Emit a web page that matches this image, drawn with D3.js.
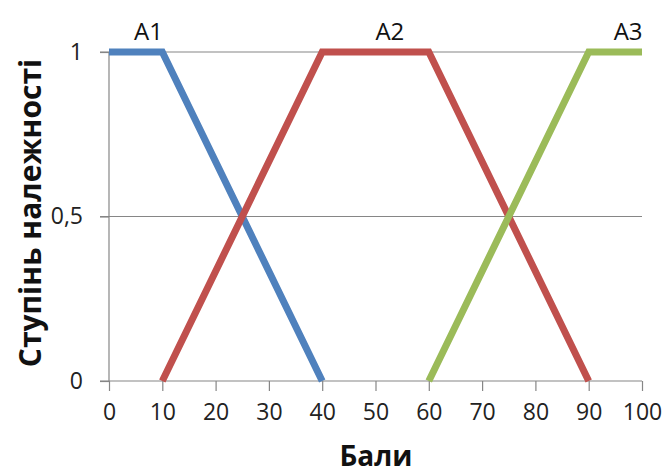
<!DOCTYPE html>
<html><head><meta charset="utf-8">
<script src="https://cdn.jsdelivr.net/npm/d3@7"></script>
<style>body{margin:0;background:#fff}svg{display:block}</style>
</head><body>
<script>
const xTicks = [0,10,20,30,40,50,60,70,80,90,100];
const yTicks = [0,0.5,1];
const yTickLabels = ["0","0,5","1"];
const seriesNames = ["A1","A2","A3"];
const seriesColors = ["#4F81BD","#C0504D","#9BBB59"];
const a1 = [[0,1],[10,1],[40,0]];
const a2 = [[10,0],[40,1],[60,1],[90,0]];
const a3 = [[60,0],[90,1],[100,1]];
const labelX = [7.4,52.7,97.4];

const W=668,H=474;
const svg=d3.select("body").append("svg").attr("width",W).attr("height",H);
const font="'Open Sans', sans-serif";
const x=d3.scaleLinear().domain([0,100]).range([109,642]);
const y=d3.scaleLinear().domain([0,1]).range([381,52]);
const grey="#868686";

// gridlines
svg.append("g").selectAll("line").data([0.5,1]).join("line")
  .attr("x1",100).attr("x2",642).attr("y1",d=>y(d)).attr("y2",d=>y(d))
  .attr("stroke",grey).attr("stroke-width",1.2);

// y axis
const yAxis=d3.axisLeft(y).tickValues(yTicks).tickSize(9).tickFormat((d,i)=>yTickLabels[i]).tickPadding(17);
const gy=svg.append("g").attr("transform",`translate(${x(0)},0)`).call(yAxis);
gy.selectAll("path,line").attr("stroke",grey).attr("stroke-width",1.2);
gy.select(".domain").attr("d",`M0,${y(0)}V${y(1)}`);
gy.selectAll("text").attr("font-family",font).attr("font-size",23).attr("fill","#222");

// x axis
const xAxis=d3.axisBottom(x).tickValues(xTicks).tickSize(10).tickSizeOuter(0).tickPadding(13);
const gx=svg.append("g").attr("transform",`translate(0,${y(0)})`).call(xAxis);
gx.selectAll("path,line").attr("stroke",grey).attr("stroke-width",1.2);
gx.select(".domain").attr("d",`M${x(0)-9},0H${x(100)}`);
gx.selectAll("text").attr("font-family",font).attr("font-size",23).attr("fill","#222");

// lines
const line=d3.line().x(d=>x(d[0])).y(d=>y(d[1]));
[a1,a2,a3].forEach((s,i)=>{
  svg.append("path").attr("d",line(s)).attr("fill","none")
    .attr("stroke",seriesColors[i]).attr("stroke-width",7).attr("stroke-linejoin","miter");
});

// series labels
svg.append("g").selectAll("text").data(seriesNames).join("text")
  .attr("x",(d,i)=>x(labelX[i])).attr("y",y(1)-12)
  .attr("text-anchor","middle").attr("font-family",font).attr("font-size",24).attr("fill","#111")
  .text(d=>d);

// axis titles
svg.append("text").attr("x",376).attr("y",466).attr("text-anchor","middle")
  .attr("font-family",font).attr("font-size",28).attr("font-weight","bold").attr("fill","#111").text("Бали");
svg.append("text").attr("transform","translate(41,213) rotate(-90)").attr("text-anchor","middle")
  .attr("font-family",font).attr("font-size",30).attr("font-weight","bold").attr("fill","#111").text("Ступінь належності");
</script>
</body></html>
